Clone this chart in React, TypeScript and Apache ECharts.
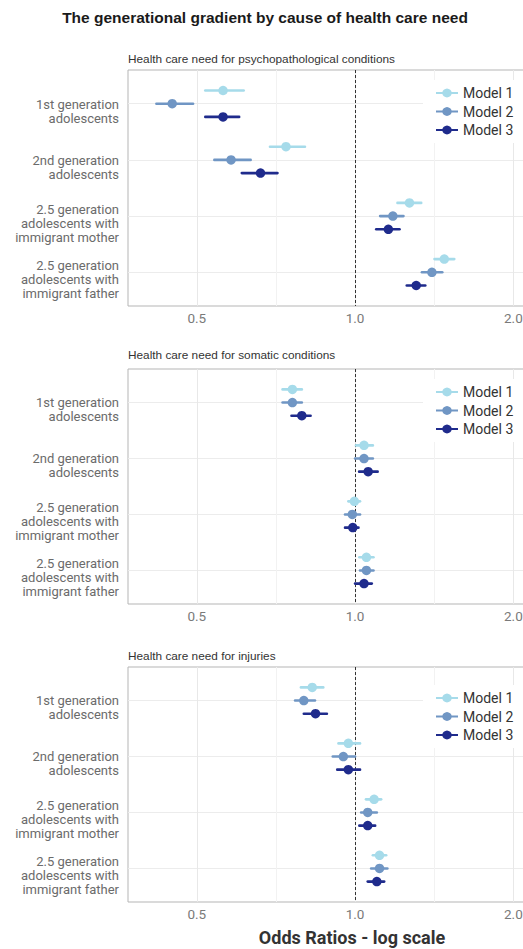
import React, { useEffect, useRef } from "react";
import * as echarts from "echarts";

const titleText = "The generational gradient by cause of health care need";
const panelTitles = [
  "Health care need for psychopathological conditions",
  "Health care need for somatic conditions",
  "Health care need for injuries",
];
const categories = [
  "1st generation\nadolescents",
  "2nd generation\nadolescents",
  "2.5 generation\nadolescents with\nimmigrant mother",
  "2.5 generation\nadolescents with\nimmigrant father",
];
const models = ["Model 1", "Model 2", "Model 3"];
const xTickValues = [0.5, 1.0, 2.0];
const xMinorValues = [0.7071, 1.4142];
const xRange = [0.37, 2.33];
const axisTitle = "Odds Ratios - log scale";

// [estimate, lower, upper] per category row
const psychModel1 = [[0.561, 0.519, 0.614], [0.739, 0.689, 0.803], [1.269, 1.204, 1.336], [1.478, 1.416, 1.544]];
const psychModel2 = [[0.449, 0.419, 0.492], [0.581, 0.54, 0.633], [1.18, 1.116, 1.236], [1.4, 1.34, 1.465]];
const psychModel3 = [[0.561, 0.519, 0.602], [0.661, 0.609, 0.712], [1.157, 1.097, 1.215], [1.307, 1.254, 1.36]];
const somaModel1 = [[0.76, 0.728, 0.792], [1.04, 1.004, 1.081], [0.997, 0.971, 1.022], [1.051, 1.019, 1.084]];
const somaModel2 = [[0.76, 0.728, 0.792], [1.04, 1.0, 1.081], [0.988, 0.957, 1.022], [1.051, 1.022, 1.084]];
const somaModel3 = [[0.792, 0.757, 0.823], [1.059, 1.018, 1.104], [0.99, 0.957, 1.015], [1.04, 1.0, 1.076]];
const injModel1 = [[0.829, 0.789, 0.87], [0.971, 0.93, 1.022], [1.087, 1.049, 1.121], [1.113, 1.081, 1.146]];
const injModel2 = [[0.799, 0.769, 0.839], [0.95, 0.907, 1.0], [1.057, 1.027, 1.1], [1.113, 1.073, 1.152]];
const injModel3 = [[0.841, 0.799, 0.884], [0.971, 0.925, 1.022], [1.057, 1.019, 1.092], [1.1, 1.057, 1.136]];

const panelData = [
  [psychModel1, psychModel2, psychModel3],
  [somaModel1, somaModel2, somaModel3],
  [injModel1, injModel2, injModel3],
];

const colors = ["#a6dbea", "#7096c4", "#1f2b8c"];

const gridTops = [70, 369, 667];
const gridHeights = [236, 235, 235];
const legendTops = [80, 379, 685];
const dodge = 0.235;
const labelShift = 0.13;

const legendIcon =
  "path://M0,3.6L5.8,3.6L6.3,2.5L7.1,1.5L8.5,0.8L10,0.5L11.5,0.8L12.9,1.5L13.7,2.5L14.2,3.6L20,3.6L20,5.4L14.2,5.4L13.7,6.5L12.9,7.5L11.5,8.2L10,8.5L8.5,8.2L7.1,7.5L6.3,6.5L5.8,5.4L0,5.4Z";

const lg = (v: number) => Math.log2(v);

export default function App() {
  const ref = useRef<HTMLDivElement>(null);
  useEffect(() => {
    document.body.style.margin = "0";
    if (!ref.current) return;
    const chart = echarts.init(ref.current, null, { renderer: "svg" });

    const grids: any[] = [];
    const xAxes: any[] = [];
    const yAxes: any[] = [];
    const series: any[] = [];
    const legends: any[] = [];
    const xMin = lg(xRange[0]);
    const xMax = lg(xRange[1]);
    const plotWidth = (xMax - xMin) * 158.3;

    panelData.forEach((panel, p) => {
      grids.push({
        left: 128,
        top: gridTops[p],
        width: plotWidth,
        height: gridHeights[p],
        outerBoundsMode: "none",
        containLabel: false,
        show: true,
        borderColor: "#b5b5b5",
        borderWidth: 1,
        backgroundColor: "transparent",
      });
      xAxes.push({
        type: "value",
        gridIndex: p,
        min: xMin,
        max: xMax,
        axisLine: { show: false },
        axisTick: { show: false },
        splitLine: { show: false },
        axisLabel: {
          customValues: xTickValues.map(lg),
          formatter: (v: number) => Math.pow(2, v).toFixed(1),
          color: "#7a7a7a",
          fontSize: 13.5,
          fontFamily: "Roboto",
          margin: 5,
        },
      });
      yAxes.push({
        type: "value",
        gridIndex: p,
        inverse: true,
        min: 0.4,
        max: 4.6,
        axisLine: { show: false },
        axisTick: { show: false },
        splitLine: { show: false },
        axisLabel: {
          customValues: categories.map((_, i) => i + 1 + labelShift),
          formatter: (v: number) => categories[Math.floor(v) - 1],
          color: "#6b6b6b",
          fontSize: 13,
          lineHeight: 14,
          fontFamily: "Roboto",
          align: "right",
          margin: 9,
        },
      });
      // gridlines and reference line
      series.push({
        type: "scatter",
        xAxisIndex: p,
        yAxisIndex: p,
        data: [],
        z: 1,
        silent: true,
        markLine: {
          silent: true,
          z: 1,
          symbol: "none",
          animation: false,
          label: { show: false },
          data: [
            ...categories.map((_, i) => ({ yAxis: i + 1, lineStyle: { color: "#ececec", width: 1, type: "solid" } })),
            ...xMinorValues.map((v) => ({ xAxis: lg(v), lineStyle: { color: "#f2f2f2", width: 1, type: "solid" } })),
            ...xTickValues.map((v) => ({ xAxis: lg(v), lineStyle: { color: "#e8e8e8", width: 1, type: "solid" } })),
            { xAxis: 0, lineStyle: { color: "#333", width: 1, type: [3, 2] } },
          ],
        },
      });
      panel.forEach((rows, m) => {
        const yOff = (m - 1) * dodge;
        series.push({
          type: "custom",
          name: models[m] + " CI",
          xAxisIndex: p,
          yAxisIndex: p,
          z: 2,
          data: rows.map((r, i) => [lg(r[1]), lg(r[2]), i + 1 + yOff]),
          encode: { x: [0, 1], y: 2 },
          renderItem: (params: any, api: any) => {
            const a = api.coord([api.value(0), api.value(2)]);
            const b = api.coord([api.value(1), api.value(2)]);
            return {
              type: "line",
              shape: { x1: a[0], y1: a[1], x2: b[0], y2: b[1] },
              style: { stroke: colors[m], lineWidth: 2.6, lineCap: "round" },
            };
          },
        });
        series.push({
          type: "scatter",
          name: models[m],
          xAxisIndex: p,
          yAxisIndex: p,
          z: 3,
          symbol: "circle",
          symbolSize: 9.5,
          itemStyle: { color: colors[m], opacity: 1 },
          data: rows.map((r, i) => [lg(r[0]), i + 1 + yOff]),
        });
      });
      legends.push({
        data: models,
        orient: "vertical",
        left: 423,
        top: legendTops[p],
        padding: [6, 10, 6, 13],
        backgroundColor: "#ffffff",
        itemWidth: 22,
        itemHeight: 10,
        itemGap: 4.5,
        icon: legendIcon,
        selectedMode: false,
        z: 10,
        textStyle: { fontSize: 14, fontFamily: "Roboto", color: "#333" },
      });
    });

    const graphics: any[] = [
      {
        type: "text",
        x: 265,
        y: 17,
        style: {
          text: titleText,
          font: "bold 15.5px 'Liberation Sans', Arial, sans-serif",
          fill: "#1a1a1a",
          textAlign: "center",
          textVerticalAlign: "middle",
        },
      },
      ...panelTitles.map((t, p) => ({
        type: "text",
        x: 128,
        y: [59, 355, 656][p],
        style: {
          text: t,
          font: "11.8px 'Liberation Sans', Arial, sans-serif",
          fill: "#333",
          textAlign: "left",
          textVerticalAlign: "middle",
        },
      })),
      {
        type: "text",
        x: 352,
        y: 937,
        style: {
          text: axisTitle,
          font: "bold 18px Roboto, sans-serif",
          fill: "#333",
          textAlign: "center",
          textVerticalAlign: "middle",
        },
      },
    ];

    chart.setOption({
      animation: false,
      backgroundColor: "#ffffff",
      grid: grids,
      xAxis: xAxes,
      yAxis: yAxes,
      legend: legends,
      series,
      graphic: graphics,
    });
    return () => chart.dispose();
  }, []);
  return <div ref={ref} style={{ position: "absolute", left: 0, top: 0, width: 523, height: 949 }} />;
}
